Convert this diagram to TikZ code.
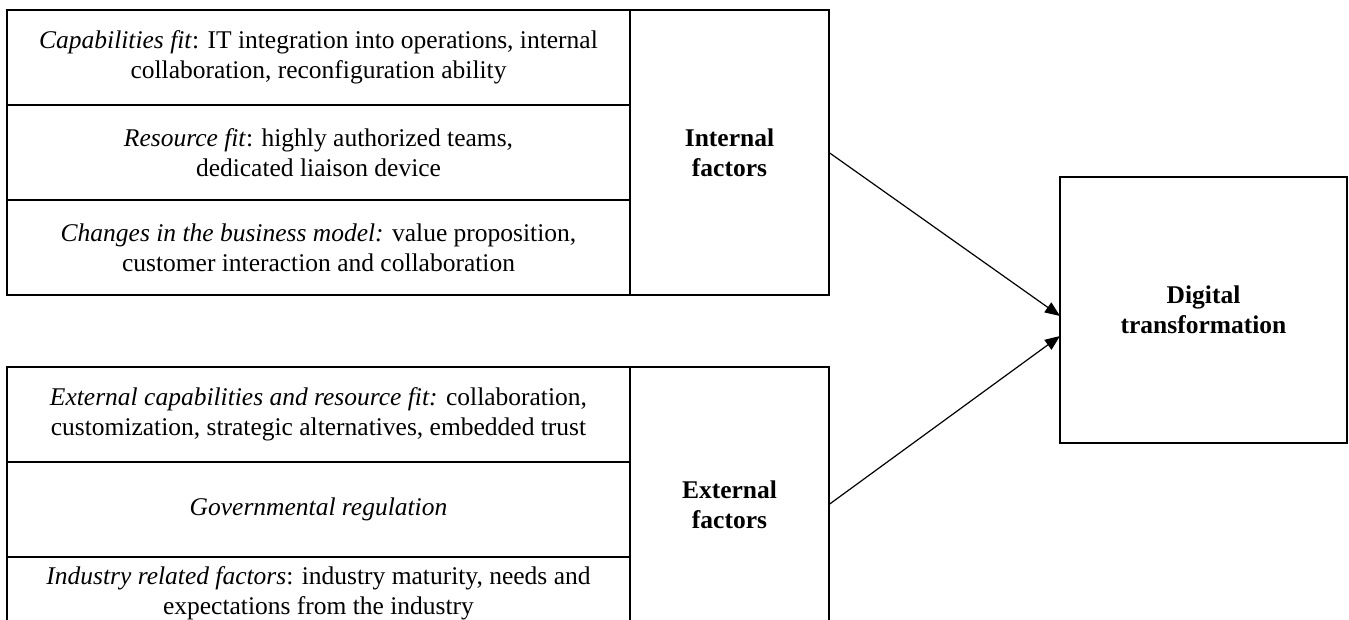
\documentclass[tikz,border=0pt]{standalone}
\usepackage{fontspec}
\setmainfont{Liberation Serif}
\usetikzlibrary{calc,positioning,arrows.meta}

\begin{document}
\begin{tikzpicture}[x=1pt,y=-1pt,
    cell/.style={draw, line width=1.8pt, outer sep=0pt, inner sep=0pt, minimum width=623pt, minimum height=95pt, align=center, font=\fontsize{25.5}{30}\selectfont},
    side/.style={cell, minimum width=199pt, minimum height=285pt, font=\fontsize{25.5}{30}\selectfont\bfseries},
    flow/.style={line width=1.2pt, -{Triangle[length=15pt,width=12pt]}}]
  \useasboundingbox (0,0) rectangle (1349,619);
  \clip (0,0) rectangle (1349,619);
  % internal factors
  \node[cell, anchor=north west] (cap) at (7,10) {\textit{Capabilities fit}: IT integration into operations, internal\\collaboration, reconfiguration ability};
  \node[cell, below=0pt of cap] (res) {\textit{Resource fit}: highly authorized teams,\\dedicated liaison device};
  \node[cell, below=0pt of res] (bm) {\textit{Changes in the business model:} value proposition,\\customer interaction and collaboration};
  \node[side, anchor=north west] (internal) at (cap.north east) {Internal\\factors};
  % external factors
  \node[cell, anchor=north west] (ext) at (7,367) {\textit{External capabilities and resource fit:} collaboration,\\customization, strategic alternatives, embedded trust};
  \node[cell, below=0pt of ext] (gov) {\textit{Governmental regulation}};
  \node[cell, below=0pt of gov, minimum height=72pt] (ind) {\textit{Industry related factors}: industry maturity, needs and\\expectations from the industry};
  \node[side, anchor=north west, minimum height=275pt] (external) at (ext.north east) {External\\factors};
  % outcome
  \node[side, minimum width=287pt, minimum height=266pt, anchor=north west] (digital) at (1060,177) {Digital\\transformation};
  \draw[flow] (internal.east) -- ($(digital.west)+(0,6)$);
  \draw[flow] (external.east) -- ($(digital.west)+(0,26)$);
\end{tikzpicture}
\end{document}
